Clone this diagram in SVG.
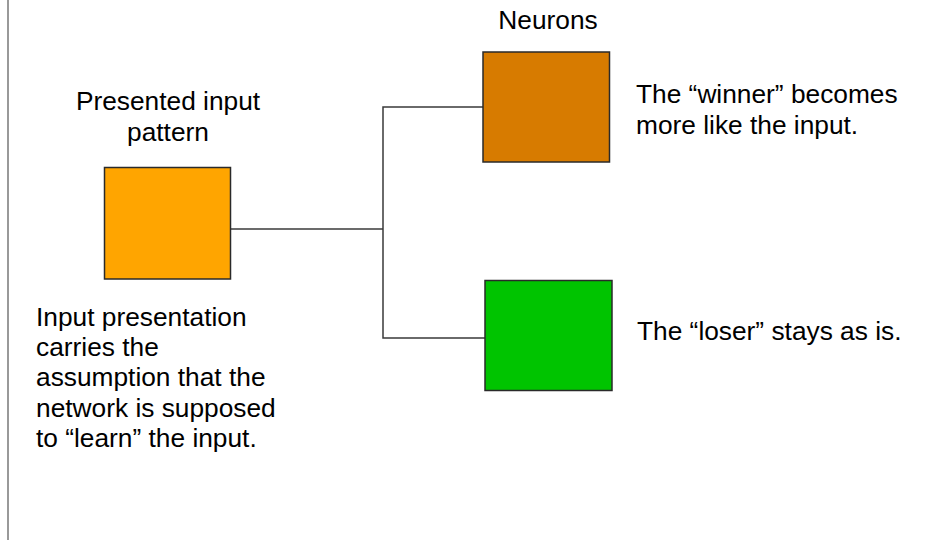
<svg xmlns="http://www.w3.org/2000/svg" width="951" height="540" viewBox="0 0 951 540">
<style>
text{font-family:"Liberation Sans",Arial,sans-serif;font-size:26.3px;fill:#000}
.box{stroke:#2a2a2a;stroke-width:1.5}
.conn{stroke:#3a3a3a;stroke-width:1.5;fill:none}
</style>
<rect width="951" height="540" fill="#fff"/>
<line x1="8" y1="0" x2="8" y2="540" stroke="#555" stroke-width="1.2"/>
<g id="connectors">
<polyline class="conn" points="231,229 383,229"/>
<polyline class="conn" points="483,107 383,107 383,338 485,338"/>
</g>
<g id="input">
<text x="168" y="110" text-anchor="middle">Presented input</text>
<text x="168" y="141" text-anchor="middle">pattern</text>
<rect class="box" x="104.5" y="167.5" width="126" height="111.5" fill="#FFA500"/>
<text x="36" y="326">Input presentation</text>
<text x="36" y="356">carries the</text>
<text x="36" y="386">assumption that the</text>
<text x="36" y="417">network is supposed</text>
<text x="36" y="447">to “learn” the input.</text>
</g>
<g id="winner">
<text x="548" y="29" text-anchor="middle">Neurons</text>
<rect class="box" x="483" y="52" width="126.5" height="110" fill="#D77B00" stroke="#3a2000"/>
<text x="636" y="103">The “winner” becomes</text>
<text x="636" y="134">more like the input.</text>
</g>
<g id="loser">
<rect class="box" x="485" y="280.5" width="127" height="110" fill="#00C400"/>
<text x="637" y="340">The “loser” stays as is.</text>
</g>
</svg>
